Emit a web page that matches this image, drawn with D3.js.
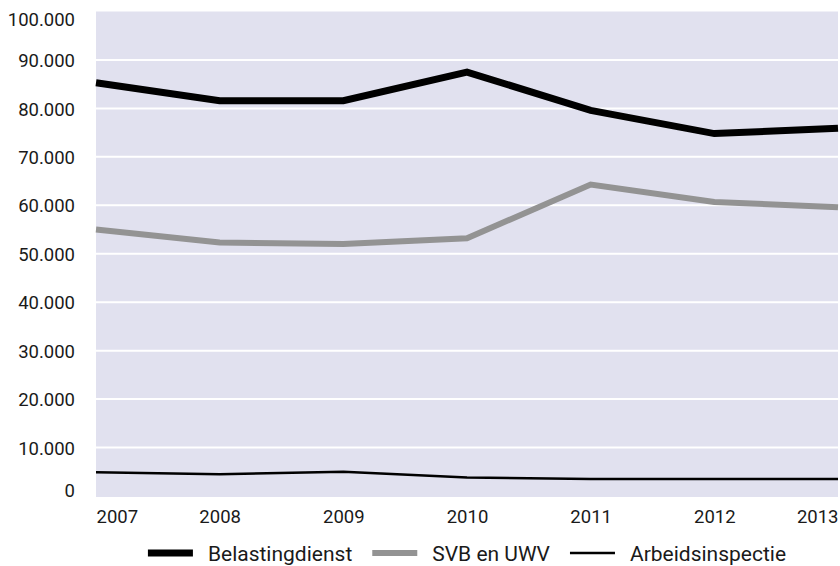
<!DOCTYPE html>
<html>
<head>
<meta charset="utf-8">
<script src="https://cdn.jsdelivr.net/npm/d3@7"></script>
<style>
  html, body { margin: 0; padding: 0; background: #fff; }
  svg { display: block; font-family: Roboto, "Liberation Sans", sans-serif; }
</style>
</head>
<body>
<svg id="chart" width="840" height="566"></svg>
<script>
const years = [2007, 2008, 2009, 2010, 2011, 2012, 2013];
const belastingdienst = [85300, 81600, 81600, 87500, 79600, 74800, 75900];
const svbEnUwv = [55000, 52300, 52000, 53200, 64300, 60700, 59600];
const arbeidsinspectie = [4900, 4500, 5000, 3800, 3500, 3500, 3500];
const yTicks = [0, 10000, 20000, 30000, 40000, 50000, 60000, 70000, 80000, 90000, 100000];
const seriesNames = ["Belastingdienst", "SVB en UWV", "Arbeidsinspectie"];

const series = [
  { name: seriesNames[0], values: belastingdienst, color: "#000000", width: 7 },
  { name: seriesNames[1], values: svbEnUwv, color: "#939393", width: 6 },
  { name: seriesNames[2], values: arbeidsinspectie, color: "#000000", width: 2.5 }
];

const W = 840, H = 566;
const m = { left: 96, right: 2, top: 11.5, bottom: 70 };
const plotW = W - m.left - m.right;
const plotH = H - m.top - m.bottom;
const fontSize = 18.5;
const legendFontSize = 21;

const svg = d3.select("#chart");
const x = d3.scalePoint().domain(years).range([0, plotW]);
const y = d3.scaleLinear().domain([0, 100000]).range([plotH, 0]);

const g = svg.append("g").attr("transform", `translate(${m.left},${m.top})`);

g.append("rect").attr("x", 0).attr("y", 0).attr("width", plotW).attr("height", plotH + 1)
  .attr("fill", "#e1e1ef");

// gridlines
g.selectAll("line.grid").data(yTicks.filter(d => d > 0 && d < 100000)).join("line")
  .attr("class", "grid")
  .attr("x1", 0).attr("x2", plotW)
  .attr("y1", d => y(d)).attr("y2", d => y(d))
  .attr("stroke", "#ffffff").attr("stroke-width", 2);

// y axis labels (first/last kept inside the plot's height)
const fmt = d => d === 0 ? "0" : d3.format(",")(d).replace(/,/g, ".");
const yAxis = d3.axisLeft(y).tickValues(yTicks).tickFormat(fmt).tickSize(0).tickPadding(21);
const ya = g.append("g").call(yAxis);
ya.select(".domain").remove();
const half = 6.6;
ya.selectAll("text")
  .attr("font-size", fontSize).attr("fill", "#1a1a1a")
  .attr("font-family", "Roboto, sans-serif")
  .attr("dy", null)
  .attr("y", d => {
    const c0 = y(d);
    let c = Math.max(c0, half + 0.5);
    c = Math.min(c, plotH - half + 0.5);
    return c - c0 + half;
  });

// x axis labels
const xAxis = d3.axisBottom(x).tickSize(0).tickPadding(0).tickFormat(d3.format("d"));
const xa = g.append("g").attr("transform", `translate(0,${plotH})`).call(xAxis);
xa.select(".domain").remove();
xa.selectAll("text")
  .attr("font-size", fontSize).attr("fill", "#1a1a1a")
  .attr("font-family", "Roboto, sans-serif")
  .attr("dy", null).attr("y", 27)
  .attr("text-anchor", (d, i) => i === 0 ? "start" : (i === years.length - 1 ? "end" : "middle"));

// lines
const line = d3.line().x((d, i) => x(years[i])).y(d => y(d));
g.selectAll("path.series").data(series).join("path")
  .attr("class", "series")
  .attr("d", d => line(d.values))
  .attr("fill", "none")
  .attr("stroke", d => d.color)
  .attr("stroke-width", d => d.width)
  .attr("stroke-linejoin", "miter");

// legend
const leg = svg.append("g");
const swatchW = 45, swatchGap = 15, itemGap = 20, legY = 553;
let cx = 0;
const items = [];
series.forEach(s => {
  const it = leg.append("g");
  it.append("line").attr("x1", 0).attr("x2", swatchW).attr("y1", 0).attr("y2", 0)
    .attr("stroke", s.color).attr("stroke-width", s.width);
  const t = it.append("text").attr("x", swatchW + swatchGap).attr("y", 7.5)
    .attr("font-size", legendFontSize).attr("fill", "#1a1a1a").text(s.name);
  const w = swatchW + swatchGap + t.node().getComputedTextLength();
  items.push({ it, x: cx });
  cx += w + itemGap;
});
const totalW = cx - itemGap;
const startX = m.left + plotW / 2 - totalW / 2;
items.forEach(o => o.it.attr("transform", `translate(${startX + o.x},${legY})`));
</script>
</body>
</html>
